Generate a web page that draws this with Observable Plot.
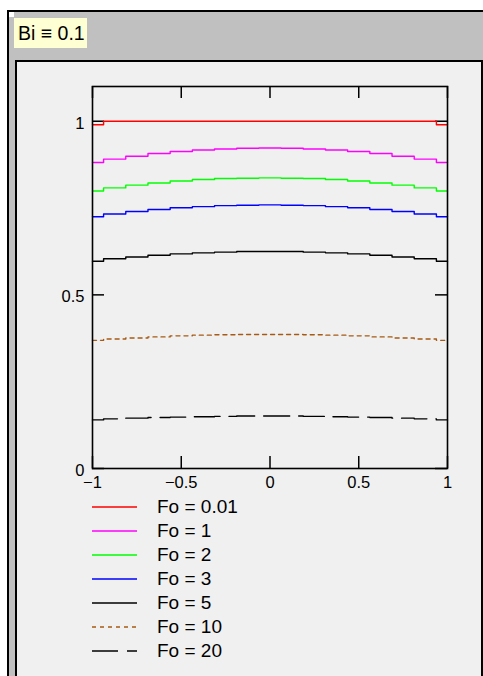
<!DOCTYPE html>
<html>
<head>
<meta charset="utf-8">
<script src="https://cdn.jsdelivr.net/npm/d3@7"></script>
<script src="https://cdn.jsdelivr.net/npm/@observablehq/plot@0.6"></script>
<style>
  html, body { margin: 0; padding: 0; background: #ffffff; width: 483px; height: 676px; overflow: hidden; font-family: "Liberation Sans", Arial, sans-serif; }
  #outer { position: absolute; left: 7px; top: 10px; width: 476px; height: 666px; border-left: 2px solid #000; border-top: 2px solid #000; background: #c0c0c0; box-sizing: border-box; }
  #notch { position: absolute; left: 9px; top: 12px; width: 5px; height: 5px; background: #ffffff; }
  #label { position: absolute; left: 14px; top: 18px; width: 73px; height: 30px; background: #ffffd4; font-size: 19.5px; line-height: 30px; padding-left: 4px; box-sizing: border-box; color: #000; white-space: nowrap; }
  #panel { position: absolute; left: 15px; top: 60px; width: 468px; height: 620px; border: 2px solid #000; border-bottom: none; background: #f0f0f0; box-sizing: border-box; }
  #chart { position: absolute; left: 17px; top: 62px; }
  #legend { position: absolute; left: 0; top: 0; }
  .row { position: absolute; left: 92px; height: 24px; display: flex; align-items: center; font-size: 19px; color: #000; white-space: nowrap; }
  .row svg { display: block; flex: none; }
  .row span { margin-left: 19px; white-space: nowrap; }
</style>
</head>
<body>
<div id="outer"></div>
<div id="notch"></div>
<div id="label">Bi ≡ 0.1</div>
<div id="panel"></div>
<div id="chart"></div>
<div id="legend"></div>
<script>
// x positions (dimensionless coordinate)
const xs = [-1, -0.875, -0.75, -0.625, -0.5, -0.375, -0.25, -0.125, 0, 0.125, 0.25, 0.375, 0.5, 0.625, 0.75, 0.875, 1];
// temperature profiles
const fo001 = [0.99, 1.0, 1.0, 1.0, 1.0, 1.0, 1.0, 1.0, 1.0, 1.0, 1.0, 1.0, 1.0, 1.0, 1.0, 1.0, 0.99];
const fo1  = [0.881, 0.891, 0.899, 0.907, 0.913, 0.917, 0.920, 0.922, 0.923, 0.922, 0.920, 0.917, 0.913, 0.907, 0.899, 0.891, 0.881];
const fo2  = [0.799, 0.808, 0.816, 0.822, 0.828, 0.832, 0.835, 0.836, 0.837, 0.836, 0.835, 0.832, 0.828, 0.822, 0.816, 0.808, 0.799];
const fo3  = [0.725, 0.733, 0.740, 0.746, 0.751, 0.754, 0.757, 0.758, 0.759, 0.758, 0.757, 0.754, 0.751, 0.746, 0.740, 0.733, 0.725];
const fo5  = [0.597, 0.604, 0.609, 0.614, 0.618, 0.621, 0.623, 0.625, 0.625, 0.625, 0.623, 0.621, 0.618, 0.614, 0.609, 0.604, 0.597];
const fo10 = [0.369, 0.373, 0.376, 0.379, 0.382, 0.384, 0.385, 0.386, 0.386, 0.386, 0.385, 0.384, 0.382, 0.379, 0.376, 0.373, 0.369];
const fo20 = [0.140, 0.143, 0.145, 0.147, 0.148, 0.149, 0.150, 0.151, 0.151, 0.151, 0.150, 0.149, 0.148, 0.147, 0.145, 0.143, 0.140];

const seriesLabels = ["Fo = 0.01", "Fo = 1", "Fo = 2", "Fo = 3", "Fo = 5", "Fo = 10", "Fo = 20"];
const seriesValues = [fo001, fo1, fo2, fo3, fo5, fo10, fo20];
const seriesColors = ["#ff0000", "#ff00ff", "#00ff00", "#0000ff", "#000000", "#a65a14", "#000000"];
const seriesDash = [null, null, null, null, null, "4,4", "26,9"];

const xTicks = [-1, -0.5, 0, 0.5, 1];
const yTicks = [0, 0.5, 1];
const fmt = d => String(d).replace("-", "\u2212");

const W = 464, H = 438;
const mL = 75, mR = 34, mT = 24, mB = 32;
const innerW = W - mL - mR, innerH = H - mT - mB;
const tickLen = 12;

const lineMarks = seriesValues.map((vals, i) => {
  const data = xs.map((x, j) => ({x, y: vals[j]}));
  return Plot.line(data, {
    x: "x", y: "y", curve: "step",
    stroke: seriesColors[i], strokeWidth: 1.4,
    strokeDasharray: seriesDash[i]
  });
});

const chart = Plot.plot({
  width: W, height: H,
  marginLeft: mL, marginRight: mR, marginTop: mT, marginBottom: mB,
  style: { background: "transparent", fontSize: "16.5px", fontFamily: "Liberation Sans, Arial, sans-serif", color: "#000" },
  x: { domain: [-1, 1], label: null },
  y: { domain: [0, 1.1], label: null },
  marks: [
    Plot.tickX(xTicks, { x: d => d, stroke: "#000", strokeWidth: 1.5, insetTop: innerH - tickLen }),
    Plot.tickX(xTicks, { x: d => d, stroke: "#000", strokeWidth: 1.5, insetBottom: innerH - tickLen }),
    Plot.tickY(yTicks, { y: d => d, stroke: "#000", strokeWidth: 1.5, insetRight: innerW - tickLen }),
    Plot.tickY(yTicks, { y: d => d, stroke: "#000", strokeWidth: 1.5, insetLeft: innerW - tickLen }),
    ...lineMarks,
    Plot.frame({ stroke: "#000", strokeWidth: 1.6 }),
    Plot.axisX(xTicks, { tickSize: 0, tickPadding: 8, fill: "#000", tickFormat: fmt, label: null }),
    Plot.axisY(yTicks, { tickSize: 0, tickPadding: 8, fill: "#000", dy: 2, tickFormat: fmt, label: null })
  ]
});
document.getElementById("chart").appendChild(chart);

// legend
const legend = document.getElementById("legend");
seriesLabels.forEach((lab, i) => {
  const row = document.createElement("div");
  row.className = "row";
  row.style.top = (495 + i * 24) + "px";
  const ns = "http://www.w3.org/2000/svg";
  const svg = document.createElementNS(ns, "svg");
  svg.setAttribute("width", 46);
  svg.setAttribute("height", 4);
  const ln = document.createElementNS(ns, "line");
  ln.setAttribute("x1", 0); ln.setAttribute("x2", 45);
  ln.setAttribute("y1", 2); ln.setAttribute("y2", 2);
  ln.setAttribute("stroke", seriesColors[i]);
  ln.setAttribute("stroke-width", 1.5);
  if (seriesDash[i]) ln.setAttribute("stroke-dasharray", seriesDash[i]);
  svg.appendChild(ln);
  const sp = document.createElement("span");
  sp.textContent = lab;
  row.appendChild(svg);
  row.appendChild(sp);
  legend.appendChild(row);
});
</script>
</body>
</html>
